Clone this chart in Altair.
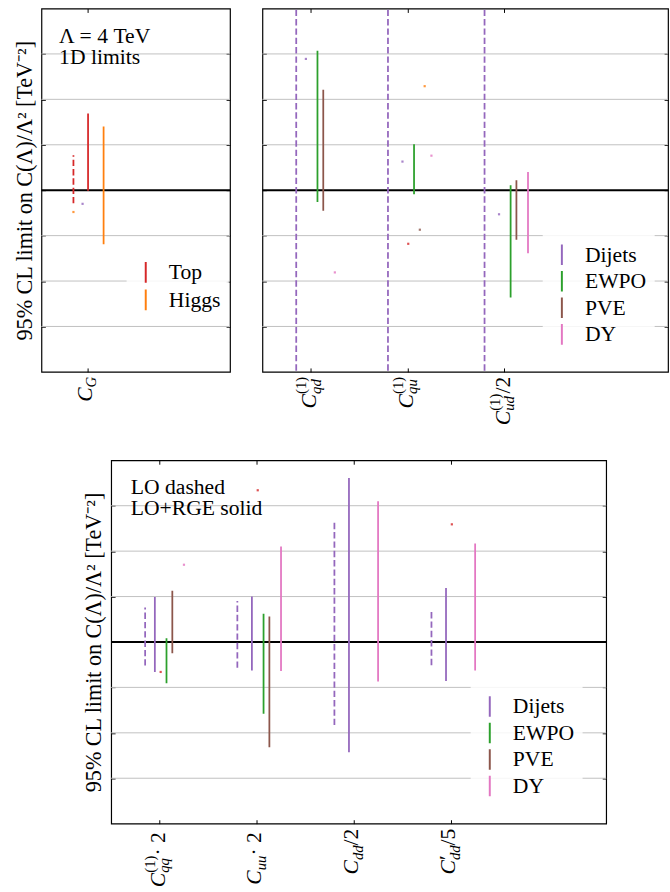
import altair as alt
import pandas as pd

FONT = "Liberation Serif"
FS = 22
SS = 15

SOURCES = ["Top", "Higgs", "Dijets", "EWPO", "PVE", "DY"]
COLORS = ["#d62728", "#ff7f0e", "#9467bd", "#2ca02c", "#8c564b", "#e377c2"]

# ---------------- data ----------------
# panel A : C_G
A_cats = ["C_G"]
A_bar_cat = [0, 0, 0]
A_bar_src = ["Top", "Top", "Higgs"]
A_bar_ord = ["LO", "RGE", "RGE"]
A_bar_lo = [-0.29, -0.01, -1.19]
A_bar_hi = [0.77, 1.69, 1.40]
A_dot_cat = [0, 0]
A_dot_src = ["Higgs", "Dijets"]
A_dot_ord = ["LO", "RGE"]
A_dot_val = [-0.48, -0.30]

# panel B : C_qd, C_qu, C_ud/2
B_cats = ["C_qd", "C_qu", "C_ud/2"]
B_bar_cat = [0, 0, 0, 1, 1, 2, 2, 2, 2]
B_bar_src = ["Dijets", "EWPO", "PVE", "Dijets", "EWPO", "Dijets", "EWPO", "PVE", "DY"]
B_bar_ord = ["LO", "RGE", "RGE", "LO", "RGE", "LO", "RGE", "RGE", "RGE"]
B_bar_lo = [-5.0, -0.26, -0.45, -5.0, -0.09, -5.0, -2.36, -1.09, -1.39]
B_bar_hi = [5.0, 3.07, 2.21, 5.0, 1.01, 5.0, 0.11, 0.22, 0.40]
B_dot_cat = [0, 0, 1, 1, 1, 1, 1, 2]
B_dot_src = ["Dijets", "DY", "Dijets", "Higgs", "DY", "PVE", "Top", "Dijets"]
B_dot_ord = ["RGE"] * 8
B_dot_val = [2.89, -1.81, 0.63, 2.29, 0.76, -0.87, -1.18, -0.53]

# panel C : C_qq*2, C_uu*2, C_dd/2, C'_dd/5
C_cats = ["C_qq2", "C_uu2", "C_dd/2", "C'_dd/5"]
C_bar_cat = [0, 0, 0, 0, 1, 1, 1, 1, 1, 2, 2, 2, 3, 3, 3]
C_bar_src = ["Dijets", "Dijets", "EWPO", "PVE",
             "Dijets", "Dijets", "EWPO", "PVE", "DY",
             "Dijets", "Dijets", "DY",
             "Dijets", "Dijets", "DY"]
C_bar_ord = ["LO", "RGE", "RGE", "RGE",
             "LO", "RGE", "RGE", "RGE", "RGE",
             "LO", "RGE", "RGE",
             "LO", "RGE", "RGE"]
C_bar_lo = [-0.52, -0.66, -0.91, -0.25,
            -0.57, -0.63, -1.58, -2.32, -0.64,
            -1.83, -2.43, -0.87,
            -0.51, -0.86, -0.63]
C_bar_hi = [0.76, 0.99, 0.08, 1.13,
            0.90, 1.00, 0.62, 0.56, 2.10,
            2.65, 3.61, 3.10,
            0.71, 1.19, 2.17]
C_dot_cat = [0, 0, 1, 3]
C_dot_src = ["Top", "DY", "Top", "Top"]
C_dot_ord = ["RGE"] * 4
C_dot_val = [-0.66, 1.70, 3.34, 2.59]

GRID_VALUES = [-3, -2, -1, 1, 2, 3]
TICK_VALUES = [-3, -2, -1, 0, 1, 2, 3]

# ---------------- styling / layout ----------------
RGE_SHIFT = {"Top": 0.01, "Higgs": 0.18, "Dijets": -0.05, "EWPO": 0.07, "PVE": 0.13, "DY": 0.25}


def xpos(cat, src, order):
    if order == "LO":
        return cat + (-0.15 if cat == 0 else -0.2)
    return cat + RGE_SHIFT[src]


WID_R = {"(": 0.333, ")": 0.333, "1": 0.5, "2": 0.5, "5": 0.5, "/": 0.278,
         "·": 0.25, " ": 0.25, "′": 0.3}
WID_I = {"C": 0.667, "G": 0.722, "q": 0.5, "d": 0.5, "u": 0.5}


def tw(text, style, size):
    tab = WID_I if style == "italic" else WID_R
    return sum(tab.get(ch, 0.5) for ch in text) * size


ROLE = {"M": (FS, 0), "sub": (SS, 4.5), "sup": (SS, -10), "prime": (FS, -1)}

LABELS = {
    "C_G": [[("C", "italic", "M")], [("G", "italic", "sub")]],
    "C_qd": [[("C", "italic", "M")], [("(1)", "normal", "sup"), ("qd", "italic", "sub")]],
    "C_qu": [[("C", "italic", "M")], [("(1)", "normal", "sup"), ("qu", "italic", "sub")]],
    "C_ud/2": [[("C", "italic", "M")], [("(1)", "normal", "sup"), ("ud", "italic", "sub")],
               [("/2", "normal", "M")]],
    "C_qq2": [[("C", "italic", "M")], [("(1)", "normal", "sup"), ("qq", "italic", "sub")],
              [(" · 2", "normal", "M")]],
    "C_uu2": [[("C", "italic", "M")], [("uu", "italic", "sub")], [(" · 2", "normal", "M")]],
    "C_dd/2": [[("C", "italic", "M")], [("dd", "italic", "sub")], [("/2", "normal", "M")]],
    "C'_dd/5": [[("C", "italic", "M")], [("′", "normal", "prime"), ("dd", "italic", "sub")],
                [("/5", "normal", "M")]],
}
BASE = {"C_G": 4.5, "C_qd": 5.5, "C_qu": 5.5, "C_ud/2": 6, "C_qq2": 5, "C_uu2": 4.5,
        "C_dd/2": 4.5, "C'_dd/5": 4.5}
LABEL_GAP = 5

xs_common = dict(nice=False, zero=False)
ys = alt.Scale(domain=[-4, 4], nice=False, zero=False)
cs = alt.Scale(domain=SOURCES, range=COLORS)
ds = alt.Scale(domain=["LO", "RGE"], range=[[6.5, 3], [1, 0]])


def xaxis(orient, vals):
    return alt.Axis(orient=orient, values=vals, labels=False, ticks=True, tickSize=4,
                    tickWidth=1, tickColor="black", offset=-4, domain=False, grid=False,
                    title=None, minExtent=0)


def yaxis(orient, title=None):
    kw = dict(orient=orient, values=TICK_VALUES, labels=False, ticks=True, tickSize=4,
              tickWidth=1, tickColor="black", offset=-4, domain=False, grid=False,
              minExtent=0)
    if title:
        kw.update(title=title, titleFont=FONT, titleFontSize=22.5, titleFontWeight="normal",
                  titleColor="black", titlePadding=5)
    else:
        kw.update(title=None)
    return alt.Axis(**kw)


def panel(cats, bcat, bsrc, bord, blo, bhi, dcat, dsrc, dord, dval, xdom, width,
          legend_vals, leg_x, leg_y, row_h, ytitle, annots):
    H = 370
    xs = alt.Scale(domain=xdom, **xs_common)
    vals = list(range(len(cats)))
    bars = pd.DataFrame({
        "x": [xpos(c, s, o) for c, s, o in zip(bcat, bsrc, bord)],
        "source": bsrc, "order": bord, "lo": blo, "hi": bhi})
    dots = pd.DataFrame({
        "x": [xpos(c, s, o) for c, s, o in zip(dcat, dsrc, dord)],
        "source": dsrc, "v": dval})
    grid = alt.Chart(pd.DataFrame({"v": GRID_VALUES})).mark_rule(
        color="#c0c0c0", strokeWidth=1).encode(y=alt.Y("v:Q", scale=ys, axis=None))
    zero = alt.Chart(pd.DataFrame({"v": [0]})).mark_rule(
        color="black", strokeWidth=2).encode(y=alt.Y("v:Q", scale=ys, axis=None))
    leg = alt.Legend(values=legend_vals, orient="none", legendX=leg_x, legendY=leg_y,
                     title=None, symbolType="M0,-1L0,1", symbolSize=441,
                     symbolStrokeWidth=2, labelFont=FONT, labelFontSize=FS,
                     labelColor="black", labelOffset=12, rowPadding=0, clipHeight=row_h,
                     padding=8, fillColor="rgba(255,255,255,0.85)", labelLimit=200)
    rules = alt.Chart(bars).mark_rule(strokeWidth=1.8, clip=True).encode(
        x=alt.X("x:Q", scale=xs, axis=xaxis("bottom", vals)),
        y=alt.Y("lo:Q", scale=ys, axis=yaxis("left", ytitle)),
        y2="hi:Q",
        color=alt.Color("source:N", scale=cs, legend=leg),
        strokeDash=alt.StrokeDash("order:N", scale=ds, legend=None))
    pts = alt.Chart(dots).mark_square(size=5, opacity=0.8).encode(
        x=alt.X("x:Q", scale=xs, axis=xaxis("top", vals)),
        y=alt.Y("v:Q", scale=ys, axis=yaxis("right")),
        color=alt.Color("source:N", scale=cs, legend=None))
    layers = [grid, zero, rules, pts]
    # composed tick labels (rotated)
    for ci, name in enumerate(cats):
        groups = LABELS[name]
        advs = [max(tw(t, st, ROLE[r][0]) for t, st, r in g) for g in groups]
        W = sum(advs)
        start = 0
        for g, a in zip(groups, advs):
            for t, st, r in g:
                size, dyr = ROLE[r]
                layers.append(
                    alt.Chart(pd.DataFrame({"x": [ci], "t": [t]})).mark_text(
                        angle=270, align="left", baseline="alphabetic",
                        dx=start - W - LABEL_GAP, dy=BASE[name] + dyr, font=FONT,
                        fontSize=size, fontStyle=st, color="black").encode(
                        x=alt.X("x:Q", scale=xs, axis=None), y=alt.value(H), text="t:N"))
            start += a
    for tx, px, py in annots:
        layers.append(alt.Chart(pd.DataFrame({"t": [tx]})).mark_text(
            align="left", baseline="alphabetic", font=FONT, fontSize=FS,
            color="black").encode(x=alt.value(px), y=alt.value(py), text="t:N"))
    return alt.layer(*layers).resolve_axis(x="independent", y="independent").properties(
        width=width, height=H)


YT = "95% CL limit on C(Λ)/Λ² [TeV⁻²]"

A = panel(A_cats, A_bar_cat, A_bar_src, A_bar_ord, A_bar_lo, A_bar_hi,
          A_dot_cat, A_dot_src, A_dot_ord, A_dot_val, [-0.5, 1.563], 192,
          ["Top", "Higgs"], 86.7, 246.9, 27.6, YT,
          [("Λ = 4 TeV", 18, 35), ("1D limits", 18, 57)])
B = panel(B_cats, B_bar_cat, B_bar_src, B_bar_ord, B_bar_lo, B_bar_hi,
          B_dot_cat, B_dot_src, B_dot_ord, B_dot_val, [-0.5, 3.7], 413,
          ["Dijets", "EWPO", "PVE", "DY"], 285.4, 229.6, 26.3, None, [])
C = panel(C_cats, C_bar_cat, C_bar_src, C_bar_ord, C_bar_lo, C_bar_hi,
          C_dot_cat, C_dot_src, C_dot_ord, C_dot_val, [-0.5, 4.6], 504,
          ["Dijets", "EWPO", "PVE", "DY"], 366, 229.3, 26.7, YT,
          [("LO dashed", 20, 34), ("LO+RGE solid", 20, 56)])

spacer = alt.Chart(pd.DataFrame({"a": [0]})).mark_point(opacity=0).properties(
    width=21, height=10, view=alt.ViewBackground(stroke=None))

top = alt.hconcat(A, B, spacing=29).resolve_scale(
    color="independent", strokeDash="independent").resolve_legend(color="independent")
bottom = alt.hconcat(spacer, C, spacing=20).resolve_scale(
    color="independent", strokeDash="independent").resolve_legend(color="independent")

chart = alt.vconcat(top, bottom, spacing=33).resolve_scale(
    color="independent", strokeDash="independent").resolve_legend(
    color="independent").properties(
    padding={"left": 12.2, "top": -1.5, "right": 0, "bottom": 0}).configure_view(
    stroke="black", strokeWidth=1.2)

chart.save("out.html", embed_options={"renderer": "svg", "actions": False})
